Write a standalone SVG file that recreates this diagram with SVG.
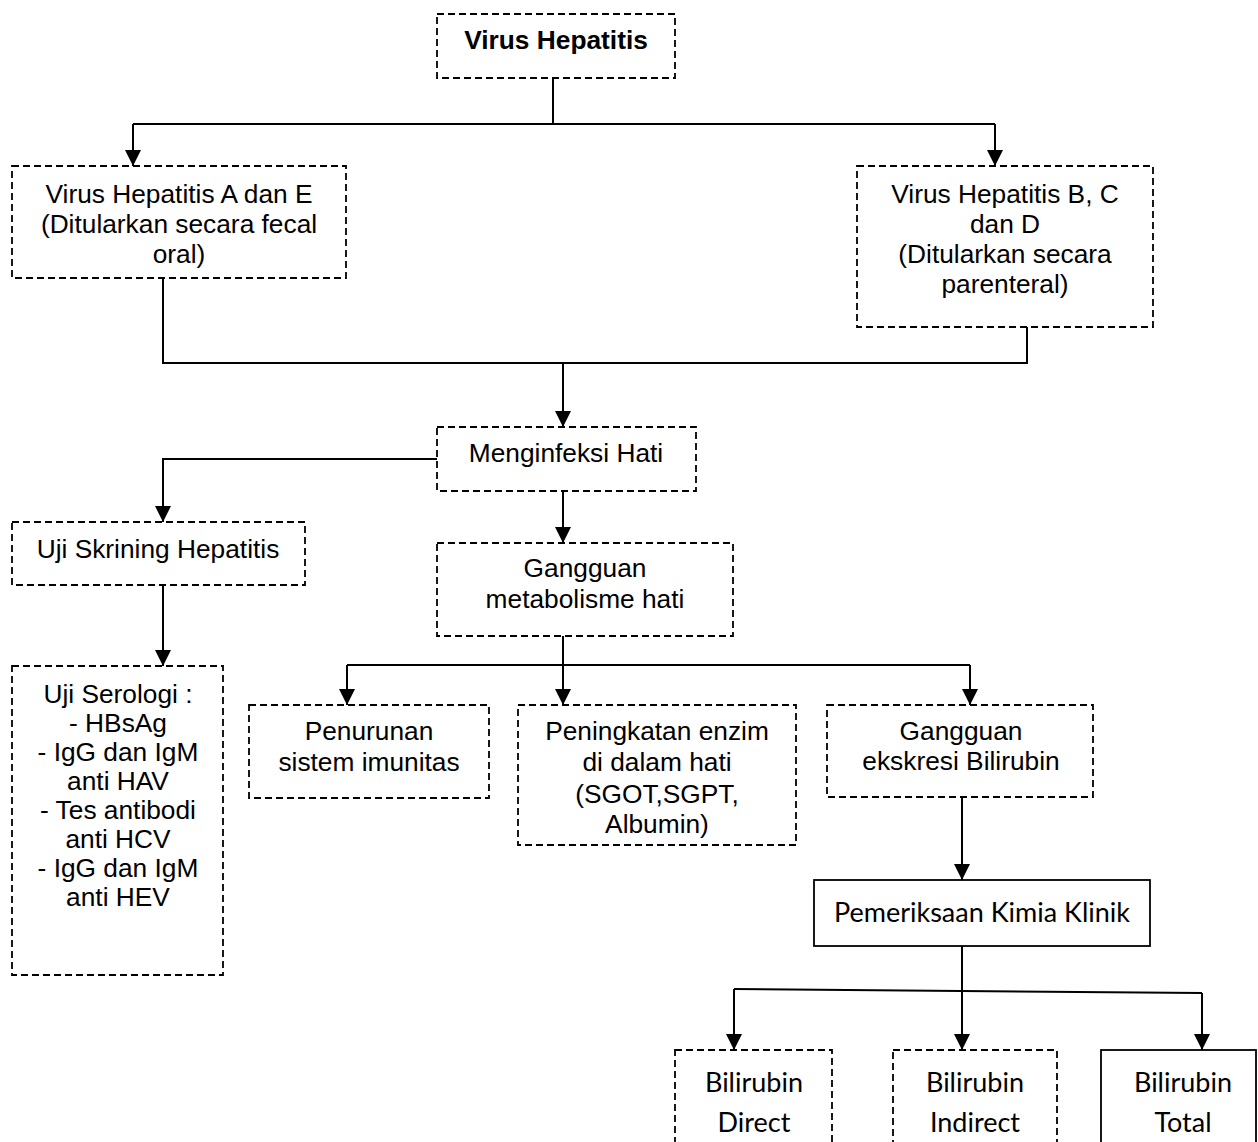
<svg xmlns="http://www.w3.org/2000/svg" width="1258" height="1142" viewBox="0 0 1258 1142">
<style>
  .box { fill: #ffffff; stroke: #000; stroke-width: 1.8; stroke-dasharray: 7 4; }
  .solid { fill: #ffffff; stroke: #000; stroke-width: 1.8; }
  .conn { fill: none; stroke: #000; stroke-width: 2; }
  .t { font-family: "Liberation Sans", Arial, sans-serif; font-size: 26.3px; fill: #000; text-anchor: middle; }
  .b { font-weight: bold; }
  .c { font-family: Lato, "Open Sans", sans-serif; font-size: 27px; fill: #000; text-anchor: middle; }
</style>
<defs>
  <marker id="arr" markerUnits="userSpaceOnUse" markerWidth="16" markerHeight="16" viewBox="0 0 16 16" refX="16" refY="8" orient="auto">
    <path d="M0,0 L16,8 L0,16 z" fill="#000"/>
  </marker>
</defs>
<rect width="1258" height="1142" fill="#ffffff"/>

<g id="connectors">
  <path class="conn" d="M553,78 V124 M133,124 H995"/>
  <path class="conn" d="M133,124 V166" marker-end="url(#arr)"/>
  <path class="conn" d="M995,124 V166" marker-end="url(#arr)"/>
  <path class="conn" d="M163,278 V363 H1027 V327"/>
  <path class="conn" d="M563,363 V427" marker-end="url(#arr)"/>
  <path class="conn" d="M437,459 H163 V522" marker-end="url(#arr)"/>
  <path class="conn" d="M163,585 V666" marker-end="url(#arr)"/>
  <path class="conn" d="M563,491 V543" marker-end="url(#arr)"/>
  <path class="conn" d="M563,636 V665 M347,665 H970"/>
  <path class="conn" d="M347,665 V705" marker-end="url(#arr)"/>
  <path class="conn" d="M563,665 V705" marker-end="url(#arr)"/>
  <path class="conn" d="M970,665 V705" marker-end="url(#arr)"/>
  <path class="conn" d="M962,797 V880" marker-end="url(#arr)"/>
  <path class="conn" d="M962,946 V1050" marker-end="url(#arr)"/>
  <path class="conn" d="M734,989 L1202,993"/>
  <path class="conn" d="M734,989 V1050" marker-end="url(#arr)"/>
  <path class="conn" d="M1202,993 V1050" marker-end="url(#arr)"/>
</g>

<g id="n-virus-hepatitis">
  <rect class="box" x="437" y="14" width="238" height="64"/>
  <text class="t b" x="556" y="49">Virus Hepatitis</text>
</g>
<g id="n-hepatitis-ae">
  <rect class="box" x="12" y="166" width="334" height="112"/>
  <text class="t" x="179" y="203">Virus Hepatitis A dan E</text>
  <text class="t" x="179" y="233">(Ditularkan secara fecal</text>
  <text class="t" x="179" y="263">oral)</text>
</g>
<g id="n-hepatitis-bcd">
  <rect class="box" x="857" y="166" width="296" height="161"/>
  <text class="t" x="1005" y="203">Virus Hepatitis B, C</text>
  <text class="t" x="1005" y="233">dan D</text>
  <text class="t" x="1005" y="263">(Ditularkan secara</text>
  <text class="t" x="1005" y="293">parenteral)</text>
</g>
<g id="n-menginfeksi">
  <rect class="box" x="437" y="427" width="259" height="64"/>
  <text class="t" x="566" y="462">Menginfeksi Hati</text>
</g>
<g id="n-skrining">
  <rect class="box" x="12" y="522" width="293" height="63"/>
  <text class="t" x="158" y="558">Uji Skrining Hepatitis</text>
</g>
<g id="n-serologi">
  <rect class="box" x="12" y="666" width="211" height="309"/>
  <text class="t" x="118" y="703">Uji Serologi :</text>
  <text class="t" x="118" y="732">- HBsAg</text>
  <text class="t" x="118" y="761">- IgG dan IgM</text>
  <text class="t" x="118" y="790">anti HAV</text>
  <text class="t" x="118" y="819">- Tes antibodi</text>
  <text class="t" x="118" y="848">anti HCV</text>
  <text class="t" x="118" y="877">- IgG dan IgM</text>
  <text class="t" x="118" y="906">anti HEV</text>
</g>
<g id="n-metabolisme">
  <rect class="box" x="437" y="543" width="296" height="93"/>
  <text class="t" x="585" y="577">Gangguan</text>
  <text class="t" x="585" y="608">metabolisme hati</text>
</g>
<g id="n-imunitas">
  <rect class="box" x="249" y="705" width="240" height="93"/>
  <text class="t" x="369" y="740">Penurunan</text>
  <text class="t" x="369" y="771">sistem imunitas</text>
</g>
<g id="n-enzim">
  <rect class="box" x="518" y="705" width="278" height="140"/>
  <text class="t" x="657" y="740">Peningkatan enzim</text>
  <text class="t" x="657" y="771">di dalam hati</text>
  <text class="t" x="657" y="803">(SGOT,SGPT,</text>
  <text class="t" x="657" y="833">Albumin)</text>
</g>
<g id="n-ekskresi">
  <rect class="box" x="827" y="705" width="266" height="92"/>
  <text class="t" x="961" y="740">Gangguan</text>
  <text class="t" x="961" y="770">ekskresi Bilirubin</text>
</g>
<g id="n-kimia-klinik">
  <rect class="solid" x="814" y="880" width="336" height="66"/>
  <text class="c" x="982" y="922">Pemeriksaan Kimia Klinik</text>
</g>
<g id="n-direct">
  <rect class="box" x="675" y="1050" width="157" height="110"/>
  <text class="c" x="754" y="1092">Bilirubin</text>
  <text class="c" x="754" y="1132">Direct</text>
</g>
<g id="n-indirect">
  <rect class="box" x="893" y="1050" width="164" height="110"/>
  <text class="c" x="975" y="1092">Bilirubin</text>
  <text class="c" x="975" y="1132">Indirect</text>
</g>
<g id="n-total">
  <rect class="solid" x="1101" y="1050" width="155" height="110"/>
  <text class="c" x="1183" y="1092">Bilirubin</text>
  <text class="c" x="1183" y="1132">Total</text>
</g>
</svg>
